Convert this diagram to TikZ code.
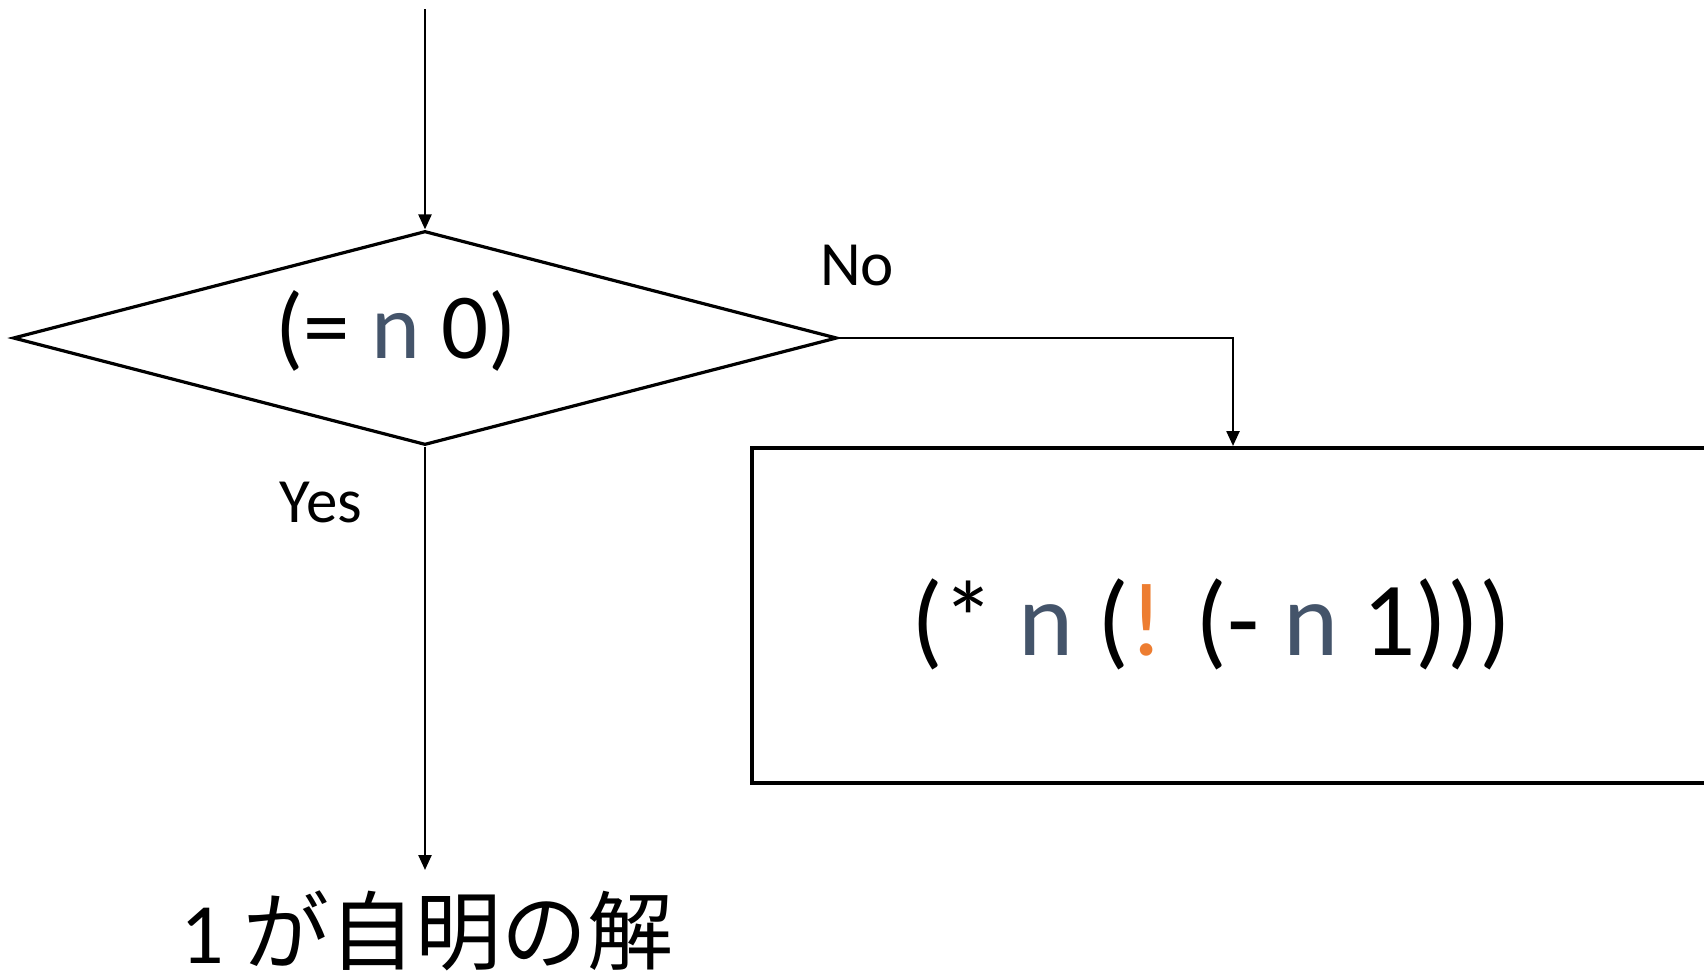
\documentclass[tikz,border=0pt]{standalone}
\usepackage{fontspec}
\setmainfont{Carlito}
\newfontfamily\jpfont{Noto Sans CJK JP}
\usetikzlibrary{arrows.meta,shapes.geometric}
\definecolor{nblue}{HTML}{44546A}
\definecolor{bang}{HTML}{ED7D31}
\tikzset{
  conn/.style={line width=2.4pt,-{Triangle[length=15pt,width=13pt]}},
  decision/.style={diamond,draw,line width=3.2pt,inner sep=0pt,minimum width=824pt,minimum height=214pt},
  procbox/.style={rectangle,draw,line width=4pt,inner sep=0pt,minimum width=1000pt,minimum height=335pt},
  lbl/.style={anchor=base,inner sep=0pt},
}
\begin{document}
\begin{tikzpicture}[x=1pt,y=-1pt]
\useasboundingbox (0,0) rectangle (1704,977);
\clip (0,0) rectangle (1704,977);
\coordinate (start) at (425,9);
\node[decision] (dec) at (425,338) {};
\node[lbl,font=\fontsize{93}{100}\selectfont] (dectext) at (396,358) {(= \textcolor{nblue}{n} 0)};
\node[procbox] (proc) at (1252,615.5) {};
\node[lbl,font=\fontsize{105}{120}\selectfont] (proctext) at (1211,655) {(* \textcolor{nblue}{n} (\textcolor{bang}{!} (- \textcolor{nblue}{n} 1)))};
\coordinate (noin) at (1233,446);
\coordinate (yesend) at (425,870);
\node[lbl,font=\fontsize{63}{70}\selectfont] (no) at (857,285) {No};
\node[lbl,font=\fontsize{63}{70}\selectfont] (yes) at (321,522) {Yes};
\node[lbl,font=\fontsize{86}{100}\selectfont] (ans) at (427,963) {1 {\jpfont が自明の解}};
\draw[conn] (start) -- (dec.north);
\draw[conn] (dec.east) -| (noin);
\draw[conn] (dec.south) -- (yesend);
\end{tikzpicture}
\end{document}
